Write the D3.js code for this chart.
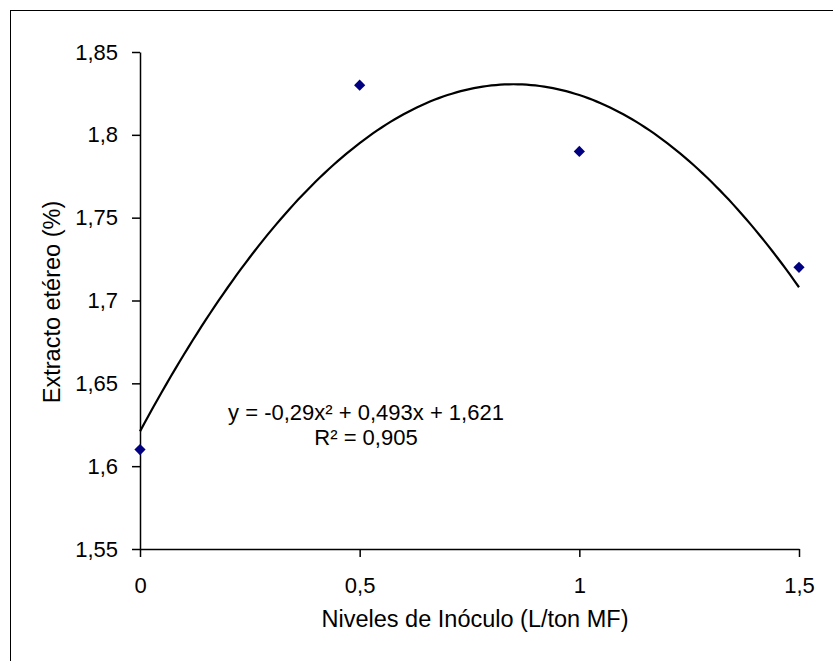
<!DOCTYPE html>
<html>
<head>
<meta charset="utf-8">
<script src="https://cdn.jsdelivr.net/npm/d3@7"></script>
<style>
  body { margin: 0; background: #fff; }
  text { font-family: "Liberation Sans", Arial, sans-serif; fill: #000; }
</style>
</head>
<body>
<div id="chart"></div>
<script>
const xValues = [0, 0.5, 1, 1.5];
const yValues = [1.61, 1.83, 1.79, 1.72];
const xTicks = [0, 0.5, 1, 1.5];
const yTicks = [1.55, 1.6, 1.65, 1.7, 1.75, 1.8, 1.85];
const coef = [-0.29, 0.493, 1.621]; // quadratic trend
const eqLines = ["y = -0,29x\u00B2 + 0,493x + 1,621", "R\u00B2 = 0,905"];

const W = 833, H = 661;
const fs = "22px", titleFs = "23.5px";
const fmt = v => String(v).replace(".", ",");

const svg = d3.select("#chart").append("svg")
  .attr("width", W).attr("height", H);

// outer frame (right/bottom edges fall outside the picture)
svg.append("rect")
  .attr("x", 10.5).attr("y", 10.5)
  .attr("width", W + 20).attr("height", H + 20)
  .attr("fill", "none").attr("stroke", "#000").attr("stroke-width", 1);

const x = d3.scaleLinear().domain([0, 1.5]).range([140, 799]);
const y = d3.scaleLinear().domain([1.55, 1.85]).range([549, 52]);

// axes
const gx = svg.append("g")
  .attr("transform", "translate(0,549)")
  .call(d3.axisBottom(x).tickValues(xTicks).tickFormat(fmt).tickSizeOuter(0).tickSizeInner(8).tickPadding(20));
const gy = svg.append("g")
  .attr("transform", "translate(140,0)")
  .call(d3.axisLeft(y).tickValues(yTicks).tickFormat(d => fmt(+d.toFixed(2))).tickSizeOuter(0).tickSizeInner(8).tickPadding(14));

[gx, gy].forEach(g => {
  g.selectAll("path, line").attr("stroke", "#000").attr("stroke-width", 1.5);
  g.selectAll("text").style("font-size", fs).attr("fill", "#000");
});

// trend curve
const curveX = d3.range(0, 1.5001, 0.01);
const line = d3.line()
  .x(d => x(d))
  .y(d => y(coef[0] * d * d + coef[1] * d + coef[2]));
svg.append("path")
  .datum(curveX)
  .attr("d", line)
  .attr("fill", "none")
  .attr("stroke", "#000")
  .attr("stroke-width", 2.2);

// data points
const sym = d3.symbol().type(d3.symbolDiamond2).size(80);
svg.selectAll(".pt")
  .data(xValues.map((v, i) => [v, yValues[i]]))
  .join("path")
  .attr("class", "pt")
  .attr("transform", d => `translate(${x(d[0])},${y(d[1])})`)
  .attr("d", sym)
  .attr("fill", "#000080");

// equation
svg.selectAll(".eq")
  .data(eqLines)
  .join("text")
  .attr("class", "eq")
  .attr("x", 366)
  .attr("y", (d, i) => 420 + i * 25)
  .attr("text-anchor", "middle")
  .style("font-size", fs)
  .text(d => d);

// axis titles
svg.append("text")
  .attr("x", 475).attr("y", 627)
  .attr("text-anchor", "middle")
  .style("font-size", titleFs)
  .text("Niveles de Inóculo (L/ton MF)");

svg.append("text")
  .attr("transform", "translate(60,302) rotate(-90)")
  .attr("text-anchor", "middle")
  .style("font-size", titleFs)
  .text("Extracto etéreo (%)");
</script>
</body>
</html>
